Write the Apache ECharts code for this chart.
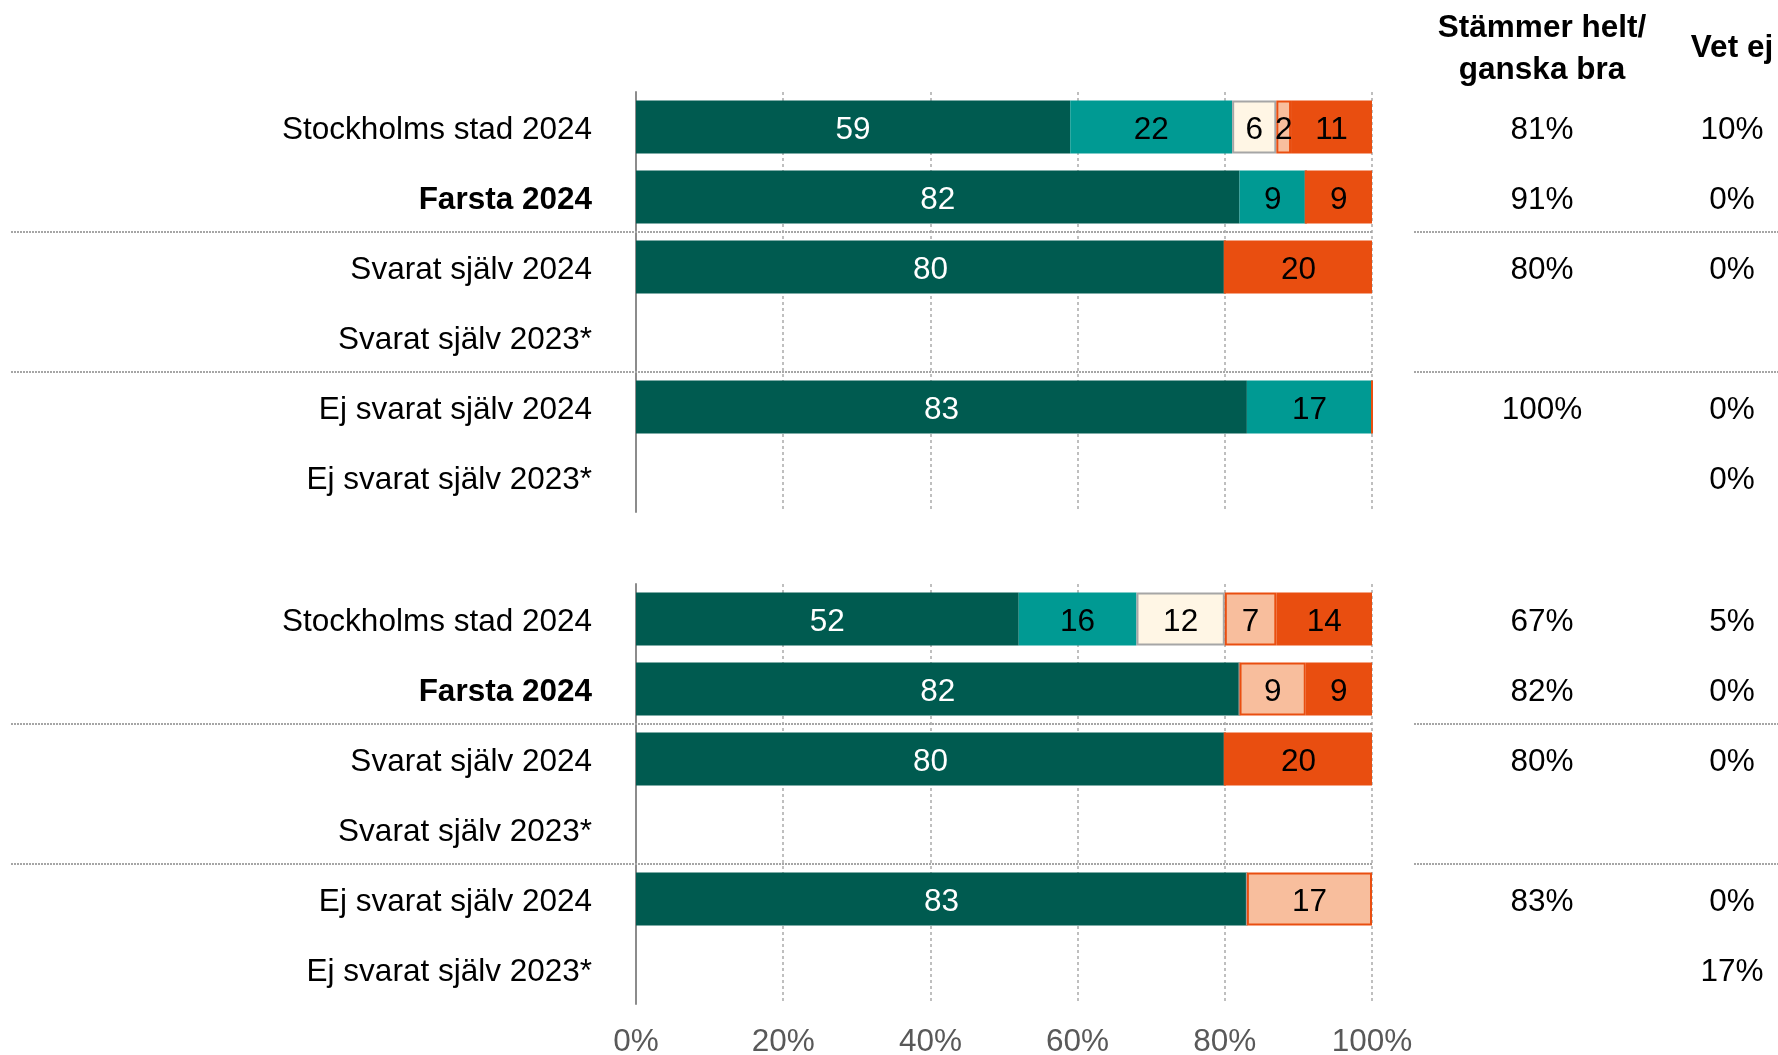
<!DOCTYPE html>
<html><head><meta charset="utf-8">
<script src="https://cdn.jsdelivr.net/npm/echarts@6/dist/echarts.min.js"></script>
<style>html,body{margin:0;padding:0;background:#fff}#c{width:1778px;height:1055px}</style>
</head><body><div id="c"></div>
<script>
const categories = ['Stockholms stad 2024','Farsta 2024','Svarat själv 2024','Svarat själv 2023*','Ej svarat själv 2024','Ej svarat själv 2023*'];
const seriesNames = ['Stämmer helt','Stämmer ganska bra','Varken eller','Stämmer ganska dåligt','Stämmer inte alls'];
const xTicks = [0,20,40,60,80,100];

// Panel A
const aHelt    = [59, 82, 80, null, 83, null];
const aGanska  = [22, 9, 0, null, 17, null];
const aVarken  = [6, 0, 0, null, 0, null];
const aDaligt  = [2, 0, 0, null, 0, null];
const aInte    = [11, 9, 20, null, 0, null];
const aTotal   = ['81%','91%','80%','','100%',''];
const aVetEj   = ['10%','0%','0%','','0%','0%'];

// Panel B
const bHelt    = [52, 82, 80, null, 83, null];
const bGanska  = [16, 0, 0, null, 0, null];
const bVarken  = [12, 0, 0, null, 0, null];
const bDaligt  = [7, 9, 0, null, 17, null];
const bInte    = [14, 9, 20, null, 0, null];
const bTotal   = ['67%','82%','80%','','83%',''];
const bVetEj   = ['5%','0%','0%','','0%','17%'];

const header1 = ['Stämmer helt/','ganska bra'];
const header2 = 'Vet ej';

const FONT = "'Liberation Sans', Arial, sans-serif";
const FS = 31.5;
const colors = ['#005B50','#009A93','#FFF6E5','#F8BE9D','#E94E10'];
const borders = [null,null,'#A6A6A6','#E94E10',null];
const labelColors = ['#fff','#000','#000','#000','#000'];

const chart = echarts.init(document.getElementById('c'));

function mkSeries(arrs, gi) {
  return arrs.map((d, i) => ({
    name: seriesNames[i], type: 'bar', stack: 'g' + gi,
    xAxisIndex: gi, yAxisIndex: gi * 3,
    data: d, barWidth: 53,
    itemStyle: { color: colors[i], borderColor: borders[i] || colors[i], borderWidth: borders[i] ? 2 : 0 },
    label: { show: true, position: 'inside', offset: [0, 3], color: labelColors[i], fontSize: FS, fontFamily: FONT,
      formatter: p => (p.value ? String(p.value) : '') },
    emphasis: { disabled: true }, silent: true, animation: false
  }));
}

const grids = [
  { left: 636, right: 406, top: 92, height: 420, containLabel: false, outerBoundsMode: 'none' },
  { left: 636, right: 406, top: 584, height: 420, containLabel: false, outerBoundsMode: 'none' }
];
const tables = [[aTotal, aVetEj], [bTotal, bVetEj]];

const xAxes = [0,1].map(gi => ({
  type: 'value', gridIndex: gi, min: 0, max: 100, interval: 20,
  axisLine: { show: false }, axisTick: { show: false },
  splitLine: { show: true, lineStyle: { type: [3,3], color: '#BFBFBF', width: 2 } },
  axisLabel: { show: gi === 1, formatter: v => xTicks.includes(v) ? v + '%' : '', fontSize: FS, color: '#595959', fontFamily: FONT, margin: 22 }
}));

const PAD = [7, 0, 0, 0];
const richV = { v: { fontSize: FS, fontFamily: FONT, color: '#000', padding: PAD } };
const yAxes = [];
[0,1].forEach(gi => {
  yAxes.push({
    type: 'category', gridIndex: gi, data: categories, inverse: true, position: 'left',
    axisLine: { show: true, lineStyle: { color: '#8C8C8C', width: 2 } }, axisTick: { show: false },
    axisLabel: { margin: 44, fontSize: FS, color: '#000', fontFamily: FONT, padding: PAD,
      formatter: v => v === 'Farsta 2024' ? '{b|' + v + '}' : v,
      rich: { b: { fontWeight: 'bold', fontSize: FS, fontFamily: FONT, color: '#000' } } }
  });
  yAxes.push({
    type: 'category', gridIndex: gi, data: categories, inverse: true, position: 'right',
    axisLine: { show: false }, axisTick: { show: false },
    axisLabel: { margin: 170, align: 'center', fontSize: FS, color: '#000', fontFamily: FONT,
      formatter: (v, i) => tables[gi][0][i] ? '{v|' + tables[gi][0][i] + '}' : '', rich: richV }
  });
  yAxes.push({
    type: 'category', gridIndex: gi, data: categories, inverse: true, position: 'right',
    axisLine: { show: false }, axisTick: { show: false },
    axisLabel: { margin: 360, align: 'center', fontSize: FS, color: '#000', fontFamily: FONT,
      formatter: (v, i) => tables[gi][1][i] ? '{v|' + tables[gi][1][i] + '}' : '', rich: richV }
  });
});

chart.setOption({
  animation: false,
  grid: grids,
  xAxis: xAxes,
  yAxis: yAxes,
  series: [
    ...mkSeries([aHelt, aGanska, aVarken, aDaligt, aInte], 0),
    ...mkSeries([bHelt, bGanska, bVarken, bDaligt, bInte], 1)
  ]
});

// separators between groups, computed from the category scale
const seps = [];
[0,1].forEach(gi => {
  [[1,2],[3,4]].forEach(([a,b]) => {
    const ya = chart.convertToPixel({ yAxisIndex: gi * 3 }, categories[a]);
    const yb = chart.convertToPixel({ yAxisIndex: gi * 3 }, categories[b]);
    seps.push((ya + yb) / 2);
  });
});
const x100 = chart.convertToPixel({ xAxisIndex: 0 }, 100);
const graphics = [];
seps.forEach(y => {
  graphics.push({ type: 'line', shape: { x1: 11, y1: y, x2: x100, y2: y }, style: { stroke: '#A6A6A6', lineWidth: 2, lineDash: [2,1] }, z: 10 });
  graphics.push({ type: 'line', shape: { x1: 1414, y1: y, x2: 1778, y2: y }, style: { stroke: '#A6A6A6', lineWidth: 2, lineDash: [2,1] }, z: 10 });
});
const hdrStyle = { fontSize: FS, fontWeight: 'bold', fontFamily: FONT, fill: '#000', textAlign: 'center', textVerticalAlign: 'middle' };
graphics.push({ type: 'text', x: 1542, y: 28, style: Object.assign({ text: header1[0] }, hdrStyle) });
graphics.push({ type: 'text', x: 1542, y: 70, style: Object.assign({ text: header1[1] }, hdrStyle) });
graphics.push({ type: 'text', x: 1732, y: 48, style: Object.assign({ text: header2 }, hdrStyle) });
chart.setOption({ graphic: graphics });
</script></body></html>
